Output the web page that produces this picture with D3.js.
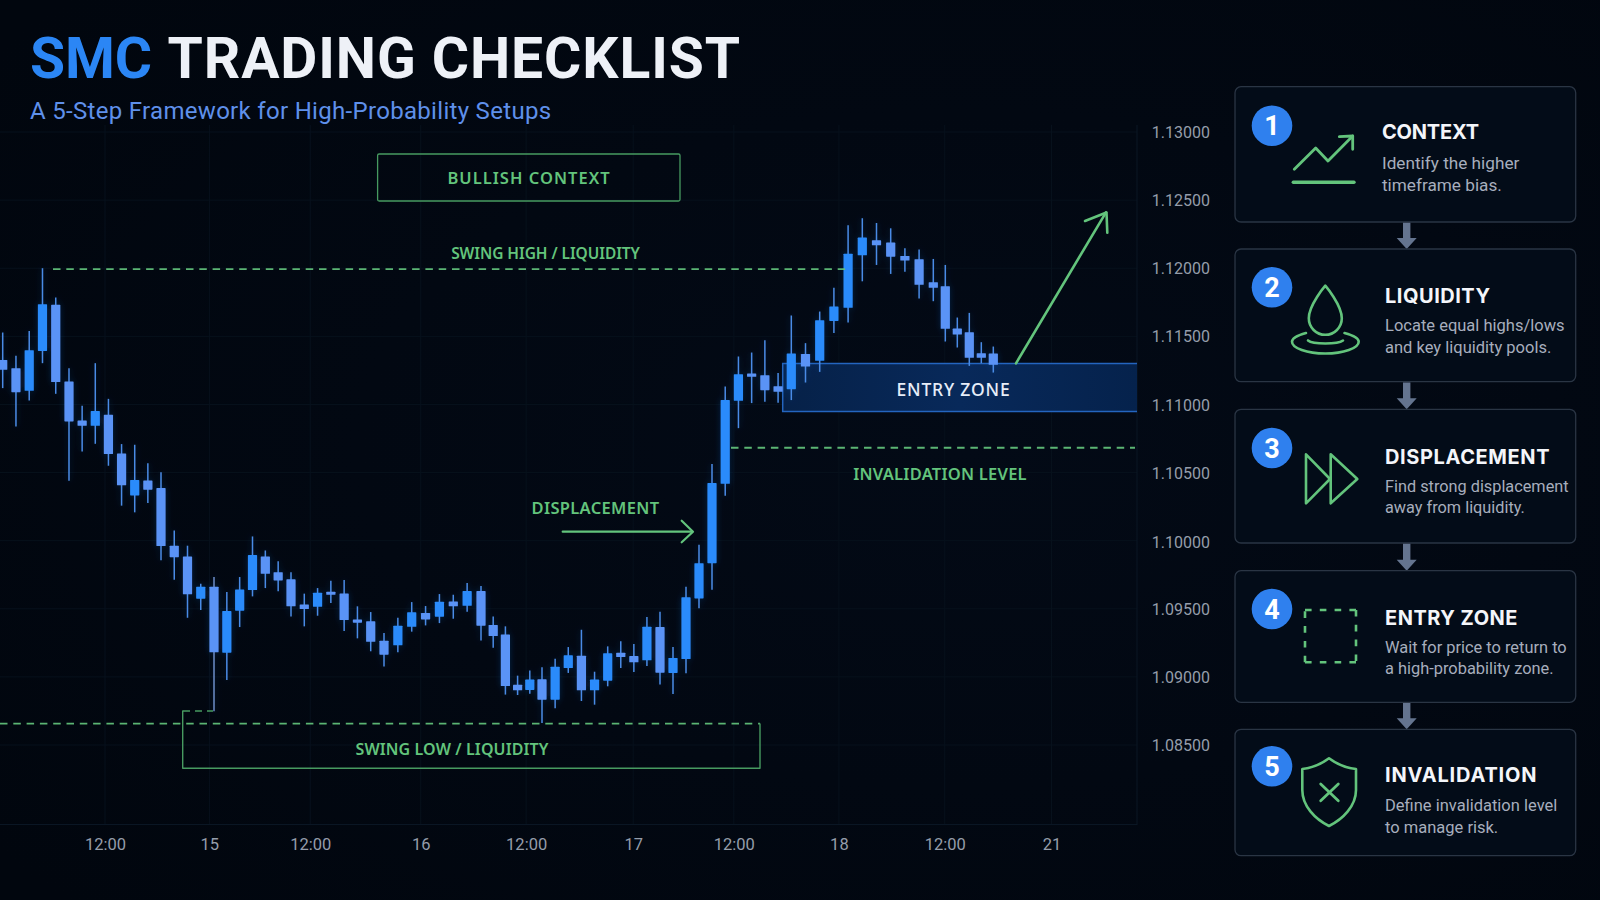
<!DOCTYPE html>
<html><head><meta charset="utf-8">
<script src="https://cdn.jsdelivr.net/npm/d3@7"></script>
<style>html,body{margin:0;padding:0;background:#020812;overflow:hidden}svg{display:block}text{font-family:Roboto,"Noto Sans",sans-serif}</style>
</head><body><svg id="c" width="1600" height="900"></svg>
<script>
const highs=[1.11528,1.11357,1.11540,1.12000,1.11785,1.11266,1.10990,1.11303,1.11041,1.10709,1.10704,1.10569,1.10503,
1.10075,1.09963,1.09684,1.09733,1.09623,1.09733,1.10031,1.09928,1.09848,1.09769,1.09611,1.09652,1.09706,1.09711,1.09518,1.09476,1.09322,
1.09434,1.09549,1.09520,1.09608,1.09603,1.09689,1.09667,1.09444,1.09371,1.09009,1.09046,1.09070,1.09134,1.09219,1.09346,1.09038,1.09224,1.09261,1.09241,1.09439,1.09478,1.09219,1.09662,1.09970,
1.10562,1.11132,1.11352,1.11381,1.11472,1.11230,1.11653,1.11450,1.11682,1.11856,1.12315,1.12367,1.12332,1.12293,1.12146,1.12137,1.12068,1.12024,1.11638,1.11672,1.11457,1.11425];
const bodyTops=[1.11327,1.11266,1.11398,1.11736,1.11731,1.11169,1.10882,1.10951,1.10924,1.10640,1.10445,1.10442,1.10386,
1.09963,1.09884,1.09662,1.09662,1.09483,1.09642,1.09894,1.09884,1.09769,1.09716,1.09532,1.09618,1.09625,1.09613,1.09422,1.09408,1.09266,
1.09376,1.09474,1.09469,1.09552,1.09554,1.09630,1.09630,1.09381,1.09312,1.08943,1.08980,1.08982,1.09075,1.09158,1.09156,1.08980,1.09173,1.09178,1.09153,1.09368,1.09366,1.09139,1.09584,1.09835,
1.10423,1.11032,1.11222,1.11227,1.11215,1.11134,1.11374,1.11371,1.11618,1.11719,1.12107,1.12225,1.12205,1.12188,1.12090,1.12066,1.11897,1.11868,1.11557,1.11530,1.11376,1.11374];
const bodyBottoms=[1.11254,1.11090,1.11100,1.11393,1.11164,1.10875,1.10843,1.10843,1.10636,1.10406,1.10332,1.10374,1.09960,
1.09879,1.09606,1.09574,1.09180,1.09178,1.09486,1.09637,1.09757,1.09708,1.09518,1.09498,1.09515,1.09603,1.09417,1.09398,1.09258,1.09163,
1.09232,1.09368,1.09422,1.09442,1.09518,1.09522,1.09376,1.09300,1.08933,1.08901,1.08904,1.08833,1.08833,1.09065,1.08901,1.08901,1.08972,1.09146,1.09107,1.09122,1.09031,1.09029,1.09131,1.09576,
1.09835,1.10418,1.11027,1.11203,1.11105,1.11093,1.11112,1.11278,1.11320,1.11613,1.11709,1.12095,1.12168,1.12085,1.12056,1.11878,1.11856,1.11555,1.11513,1.11342,1.11342,1.11291];
const lows=[1.11120,1.10838,1.11029,1.11303,1.11078,1.10440,1.10655,1.10711,1.10550,1.10257,1.10208,1.10276,1.09857,
1.09713,1.09434,1.09491,1.08747,1.08977,1.09366,1.09591,1.09652,1.09628,1.09444,1.09371,1.09449,1.09542,1.09337,1.09283,1.09188,1.09077,
1.09180,1.09332,1.09378,1.09395,1.09427,1.09478,1.09268,1.09214,1.08870,1.08867,1.08877,1.08662,1.08769,1.09029,1.08823,1.08796,1.08931,1.09065,1.09036,1.09080,1.08945,1.08875,1.09026,1.09503,
1.09640,1.10330,1.10826,1.11010,1.11019,1.11012,1.11032,1.11161,1.11239,1.11525,1.11601,1.11904,1.12024,1.11958,1.11975,1.11777,1.11758,1.11462,1.11418,1.11283,1.11303,1.11234];
const bullishCandles=[2,3,7,10,15,17,18,19,24,30,31,33,35,40,42,43,45,46,49,51,52,53,54,55,56,60,62,63,64,65];
const priceTicks=[1.13,1.125,1.12,1.115,1.11,1.105,1.10,1.095,1.09,1.085];
const timeTickLabels=["12:00","15","12:00","16","12:00","17","12:00","18","12:00","21"];
const timeTickIndex=[7.74,15.65,23.45,31.65,39.7,47.95,55.65,63.35,70.95,79.85];
const swingHigh=1.11993, swingLow=1.08657, invalidation=1.10682, entryTop=1.11300, entryBottom=1.10948;
const stepNumbers=[1,2,3,4,5];
const stepTitles=["CONTEXT","LIQUIDITY","DISPLACEMENT","ENTRY ZONE","INVALIDATION"];
const stepLine1=["Identify the higher","Locate equal highs/lows","Find strong displacement","Wait for price to return to","Define invalidation level"];
const stepLine2=["timeframe bias.","and key liquidity pools.","away from liquidity.","a high-probability zone.","to manage risk."];

const GREEN="#63c47c", BOX="#479a60", BRIGHT="#2a8bfb", LIGHT="#5a93f6";
const svg=d3.select("#c");
const defs=svg.append("defs");
const g0=defs.append("radialGradient").attr("id","bg").attr("cx","60%").attr("cy","50%").attr("r","75%");
g0.append("stop").attr("offset","0%").attr("stop-color","#030a16");
g0.append("stop").attr("offset","100%").attr("stop-color","#01060e");
const gl=defs.append("filter").attr("id","glow").attr("x","-30%").attr("y","-30%").attr("width","160%").attr("height","160%");
gl.append("feDropShadow").attr("dx",0).attr("dy",0).attr("stdDeviation",3).attr("flood-color","#1d5fc4").attr("flood-opacity",.3);
const zg=defs.append("linearGradient").attr("id","zone").attr("x1",0).attr("x2",1).attr("y1",0).attr("y2",0);
zg.append("stop").attr("offset","0%").attr("stop-color","#062148");
zg.append("stop").attr("offset","50%").attr("stop-color","#08295a");
zg.append("stop").attr("offset","100%").attr("stop-color","#05224c");
svg.append("rect").attr("width",1600).attr("height",900).attr("fill","url(#bg)");

const x=d3.scaleLinear().domain([0,5,12,16,22,29,36,41,46,50,54,60,65,70,75])
  .range([2.7,69,161,214,291,384,481,542,607.7,660,712,791.3,862.3,933.3,993.3]);
const y=d3.scaleLinear().domain([1.13,1.085]).range([132,745]);

// grid
const grid=svg.append("g").attr("stroke","#07111c").attr("stroke-width",1);
grid.selectAll("line.h").data(priceTicks).join("line").attr("x1",0).attr("x2",1137).attr("y1",d=>y(d)).attr("y2",d=>y(d));
grid.selectAll("line.v").data(timeTickIndex).join("line").filter(d=>x(d)<1137).attr("x1",d=>x(d)).attr("x2",d=>x(d)).attr("y1",125).attr("y2",825);
grid.append("line").attr("x1",1137).attr("x2",1137).attr("y1",125).attr("y2",825).attr("stroke","#0a1624");
grid.append("line").attr("x1",0).attr("x2",1137).attr("y1",824.5).attr("y2",824.5).attr("stroke","#0a1624");

// axes
const labelNudge=[0,0,0,0,.6,1.2,1.6,.9,0,.4];
const ay=svg.append("g").attr("transform","translate(1151.7,0)").call(d3.axisRight(y).tickValues(priceTicks).tickFormat(d3.format(".5f")).tickSize(0).tickPadding(0));
const ax=svg.append("g").attr("transform","translate(0,832)").call(d3.axisBottom(x).tickValues(timeTickIndex).tickFormat((d,i)=>timeTickLabels[i]).tickSize(0).tickPadding(0));
[ay,ax].forEach(a=>{a.select(".domain").remove();a.selectAll("text").attr("fill","#959daa").attr("font-size",16);});
ay.selectAll("text").attr("transform",(d,i)=>`translate(0,${labelNudge[i]})`);
ax.selectAll("text").attr("y",6).attr("dy","0.71em").attr("font-size",16.5);

// entry zone
svg.append("rect").attr("x",782.7).attr("y",y(entryTop)).attr("width",1137-782.7).attr("height",y(entryBottom)-y(entryTop)).attr("fill","url(#zone)");
svg.append("path").attr("d",`M1137,${y(entryTop)}H782.7V${y(entryBottom)}H1137`).attr("fill","none").attr("stroke","#2465bf").attr("stroke-width",1.5);

// candles
const idx=d3.range(highs.length);
const isUp=i=>bullishCandles.includes(i);
const cg=svg.append("g").attr("filter","url(#glow)");
cg.selectAll("line").data(idx).join("line").attr("x1",i=>x(i)).attr("x2",i=>x(i))
  .attr("y1",i=>y(highs[i])).attr("y2",i=>y(lows[i])).attr("stroke",i=>i===16?"#6b8cc8":"#4a8be6").attr("stroke-width",1.5);
cg.selectAll("rect").data(idx).join("rect").attr("x",i=>x(i)-4.6).attr("width",9.2)
  .attr("y",i=>y(bodyTops[i])).attr("height",i=>y(bodyBottoms[i])-y(bodyTops[i]))
  .attr("fill",i=>isUp(i)?BRIGHT:LIGHT).attr("rx",.6);

// levels
const dash=(x1,x2,p)=>svg.append("line").attr("x1",x1).attr("x2",x2).attr("y1",y(p)).attr("y2",y(p)).attr("stroke",GREEN).attr("stroke-width",1.8).attr("stroke-dasharray","7.5 5.8").attr("opacity",.92);
dash(53,845,swingHigh); dash(0,760,swingLow); dash(731,1135,invalidation);
// fits a label to the width it has in the picture
const fit=(sel,w)=>{const n=sel.node(), s=(w-n.getComputedTextLength())/Math.max(1,n.textContent.length-1); sel.attr("letter-spacing",s.toFixed(3)); return sel;};
const lab=(t,cx,by,fs,w,fill=GREEN,fw=600)=>fit(svg.append("text").attr("x",cx).attr("y",by).attr("text-anchor","middle").attr("font-size",fs).attr("font-weight",fw).attr("fill",fill).style("font-family","'Noto Sans',sans-serif").text(t),w);
lab("SWING HIGH / LIQUIDITY",545.5,259,15.5,188.8);
lab("SWING LOW / LIQUIDITY",452,755,16,192.9);
lab("INVALIDATION LEVEL",940,480,16.5,173.5);
lab("DISPLACEMENT",595.5,514,16.5,127.5);
lab("ENTRY ZONE",953.5,395.5,17.5,113.3,"#e6edf8",500);
svg.append("rect").attr("x",377.6).attr("y",154).attr("width",302.4).attr("height",47).attr("fill","none").attr("stroke",BOX).attr("stroke-width",1.3).attr("rx",1.5);
lab("BULLISH CONTEXT",529,184,16.5,162.2);

const gp=(d,w=2,extra={})=>{const p=svg.append("path").attr("d",d).attr("fill","none").attr("stroke",GREEN).attr("stroke-width",w).attr("stroke-linecap","round").attr("stroke-linejoin","round");Object.entries(extra).forEach(([k,v])=>p.attr(k,v));return p;};
gp("M760,724V768.3H182.7V711",1.4,{stroke:BOX});
gp("M183,711H213",1.4,{"stroke-dasharray":"7 5","stroke-linecap":"butt",stroke:BOX});
gp("M562.7,531.7H692",2.2);
gp("M681.7,520.7L693,531.7L681.7,542.3",2.2);
gp("M1016,363.3L1106,212.3",2.6);
gp("M1085,221L1106.5,212.5L1107.3,232.7",2.6);

// title
svg.append("text").attr("x",30).attr("y",78).attr("font-size",57).attr("font-weight",700).attr("letter-spacing",-.1).attr("fill","#2b86f5").text("SMC");
svg.append("text").attr("x",167.5).attr("y",78).attr("font-size",57).attr("font-weight",700).attr("letter-spacing",.9).attr("fill","#eef1f7").text("TRADING CHECKLIST");
svg.append("text").attr("x",30).attr("y",118.5).attr("font-size",24).attr("letter-spacing",.31).attr("fill","#5f90ea").text("A 5-Step Framework for High-Probability Setups");

// cards
const cardTop=[86.7,249,409.3,570.7,729.3], cardBottom=[222,381.7,543,702.3,855.7];
const badgeY=[125.7,287.3,448,609,766.3], titleX=[1382,1385,1385,1385,1385], titleY=[139,303.3,464,625.3,782.3];
const titleW=[97,105,164.5,132.5,151.5], descSize=[17.2,16.5,16.3,16.4,16.5];
const l1Y=[168.5,331.2,492,653.3,810.7], l2Y=[191.3,352.7,513.3,674.3,832.7];
const cards=svg.append("g");
stepNumbers.forEach((n,i)=>{
  cards.append("rect").attr("x",1235).attr("y",cardTop[i]).attr("width",340.7).attr("height",cardBottom[i]-cardTop[i]).attr("rx",6).attr("fill","#030c18").attr("stroke","#2a3544").attr("stroke-width",1.3);
  cards.append("circle").attr("cx",1272).attr("cy",badgeY[i]).attr("r",20.3).attr("fill","#2f80ee");
  cards.append("text").attr("x",1272).attr("y",badgeY[i]+9.5).attr("text-anchor","middle").attr("font-size",27).attr("font-weight",700).attr("fill","#fff").text(n);
  fit(cards.append("text").attr("x",titleX[i]).attr("y",titleY[i]).attr("font-size",20).attr("font-weight",700).attr("fill","#f4f6fa").style("font-family","Inter,sans-serif").text(stepTitles[i]),titleW[i]);
  cards.append("text").attr("x",titleX[i]).attr("y",l1Y[i]).attr("font-size",descSize[i]).attr("fill","#a7aebd").text(stepLine1[i]);
  cards.append("text").attr("x",titleX[i]).attr("y",l2Y[i]).attr("font-size",descSize[i]).attr("fill","#a7aebd").text(stepLine2[i]);
  if(i<4){const a=cardBottom[i], b=cardTop[i+1];
    cards.append("path").attr("fill","#64748f").attr("d",`M1403,${a+.7}H1410.4V${b-11}H1416.7L1406.7,${b}L1396.7,${b-11}H1403Z`);}
});
// icons
gp("M1294.3,169.3L1315.7,148L1328,161L1352.7,136",2.8);
gp("M1339.3,136.7L1352.7,136L1352.7,149.3",2.8);
gp("M1293.3,182.3H1354",3.4);
gp("M1325.3,285.7C1325.3,285.7 1341.8,305 1341.8,318.3A16.5,16.5 0 1 1 1308.8,318.3C1308.8,305 1325.3,285.7 1325.3,285.7Z",2.6);
gp("M1306,333C1297,335.5 1292,338.5 1292,341.7C1292,348 1307,353.5 1325.3,353.5C1343.5,353.5 1358.7,348 1358.7,341.7C1358.7,338.5 1353.5,335.5 1344.5,333",2.6);
gp("M1308,340.5C1313,344.5 1337.5,344.5 1343,340.5",2.6);
gp("M1306,454.3L1330,479L1306,503.3Z",2.6);
gp("M1330.7,454.3L1357.3,479L1330.7,503.3Z",2.6);
[["M1305,610H1356"],["M1356,610V662.3"],["M1356,662.3H1305"],["M1305,662.3V610"]].forEach(d=>gp(d[0],2.6,{"stroke-dasharray":"6.6 8.2","stroke-linecap":"butt","stroke-linejoin":"miter"}));
gp("M1329,758.3C1320,765 1311,768 1302.3,769V790C1302.3,806 1315,819 1329,826C1343,819 1356,806 1356,790V769C1347,768 1338,765 1329,758.3Z",2.6);
gp("M1320.7,784L1338.3,800.7M1338.3,784L1320.7,800.7",2.8);
</script></body></html>
